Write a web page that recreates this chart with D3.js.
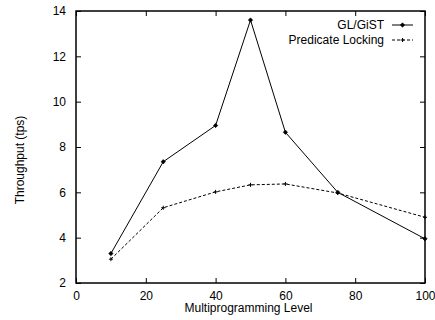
<!DOCTYPE html>
<html>
<head>
<meta charset="utf-8">
<script src="https://cdn.jsdelivr.net/npm/d3@7/dist/d3.min.js"></script>
<style>
  html, body { margin: 0; padding: 0; background: #fff; }
  svg { display: block; }
  text { font-family: "Liberation Sans", Arial, Helvetica, sans-serif; fill: #000; }
</style>
</head>
<body>
<svg id="chart" width="435" height="320"></svg>
<script>
// Multiprogramming levels and measured throughput for each locking scheme
const levels = [10, 25, 40, 50, 60, 75, 100];
const glGist = [3.3, 7.35, 8.95, 13.6, 8.65, 6.0, 3.95];
const predicateLocking = [3.05, 5.32, 6.02, 6.33, 6.37, 5.97, 4.9];
const xTicks = [0, 20, 40, 60, 80, 100];
const yTicks = [2, 4, 6, 8, 10, 12, 14];
const seriesNames = ["GL/GiST", "Predicate Locking"];

const svg = d3.select("#chart");
const L = 76, R = 425, T = 11, B = 283;
const fs = 12;

const x = d3.scaleLinear().domain([0, 100]).range([L, R]);
const y = d3.scaleLinear().domain([2, 14]).range([B, T]);

// inward ticks on all four sides
const tickLen = 5;
const g = svg.append("g");

g.append("g").attr("transform", `translate(0,${B})`)
  .call(d3.axisBottom(x).tickValues(xTicks).tickSizeInner(-tickLen).tickSizeOuter(0).tickPadding(8))
  .call(a => a.select(".domain").remove());
g.append("g").attr("transform", `translate(0,${T})`)
  .call(d3.axisTop(x).tickValues(xTicks).tickSizeInner(-tickLen).tickSizeOuter(0).tickFormat(""))
  .call(a => a.select(".domain").remove());
g.append("g").attr("transform", `translate(${L},0)`)
  .call(d3.axisLeft(y).tickValues(yTicks).tickSizeInner(-tickLen).tickSizeOuter(0).tickPadding(10))
  .call(a => a.select(".domain").remove());
g.append("g").attr("transform", `translate(${R},0)`)
  .call(d3.axisRight(y).tickValues(yTicks).tickSizeInner(-tickLen).tickSizeOuter(0).tickFormat(""))
  .call(a => a.select(".domain").remove());

g.selectAll(".tick line").attr("stroke", "#000").attr("stroke-width", 1);
g.selectAll(".tick text").attr("font-size", fs).style("font-family", '"Liberation Sans", Arial, sans-serif');

// plot frame
svg.append("rect")
  .attr("x", L).attr("y", T).attr("width", R - L).attr("height", B - T)
  .attr("fill", "none").attr("stroke", "#000").attr("stroke-width", 1.5);

// axis titles
svg.append("text")
  .attr("x", (L + R) / 2 - 2).attr("y", 312)
  .attr("text-anchor", "middle").attr("font-size", fs)
  .text("Multiprogramming Level");
svg.append("text")
  .attr("transform", "translate(24,160) rotate(-90)")
  .attr("text-anchor", "middle").attr("font-size", fs)
  .text("Throughput (tps)");

const line = d3.line().x(d => x(d[0])).y(d => y(d[1]));
const ptsA = levels.map((l, i) => [l, glGist[i]]);
const ptsB = levels.map((l, i) => [l, predicateLocking[i]]);

const plot = svg.append("g");

plot.append("path").datum(ptsB)
  .attr("d", line).attr("fill", "none").attr("stroke", "#000")
  .attr("stroke-width", 1).attr("stroke-dasharray", "3,2");
plot.append("path").datum(ptsA)
  .attr("d", line).attr("fill", "none").attr("stroke", "#000")
  .attr("stroke-width", 1);

const diamond = (cx, cy, r) => `M${cx},${cy - r}L${cx + r},${cy}L${cx},${cy + r}L${cx - r},${cy}Z`;
const plus = (cx, cy, r) => `M${cx - r},${cy}H${cx + r}M${cx},${cy - r}V${cy + r}`;

plot.selectAll(".mA").data(ptsA).join("path")
  .attr("d", d => diamond(x(d[0]), y(d[1]), 2.2)).attr("fill", "#000").attr("stroke", "#000").attr("stroke-width", 0.6);
plot.selectAll(".mB").data(ptsB).join("path")
  .attr("d", d => plus(x(d[0]), y(d[1]), 2)).attr("fill", "none").attr("stroke", "#000").attr("stroke-width", 1);

// legend
const legend = svg.append("g");
const legY = [25, 40];
seriesNames.forEach((name, i) => {
  legend.append("text")
    .attr("x", 384).attr("y", legY[i]).attr("dy", "0.35em")
    .attr("text-anchor", "end").attr("font-size", fs).text(name);
  legend.append("line")
    .attr("x1", 392).attr("x2", 413).attr("y1", legY[i]).attr("y2", legY[i])
    .attr("stroke", "#000").attr("stroke-width", 1)
    .attr("stroke-dasharray", i === 0 ? null : "3,2");
  legend.append("path")
    .attr("d", i === 0 ? diamond(402.5, legY[i], 2.2) : plus(402.5, legY[i], 2))
    .attr("fill", i === 0 ? "#000" : "none").attr("stroke", "#000")
    .attr("stroke-width", i === 0 ? 0.6 : 1);
});
</script>
</body>
</html>
